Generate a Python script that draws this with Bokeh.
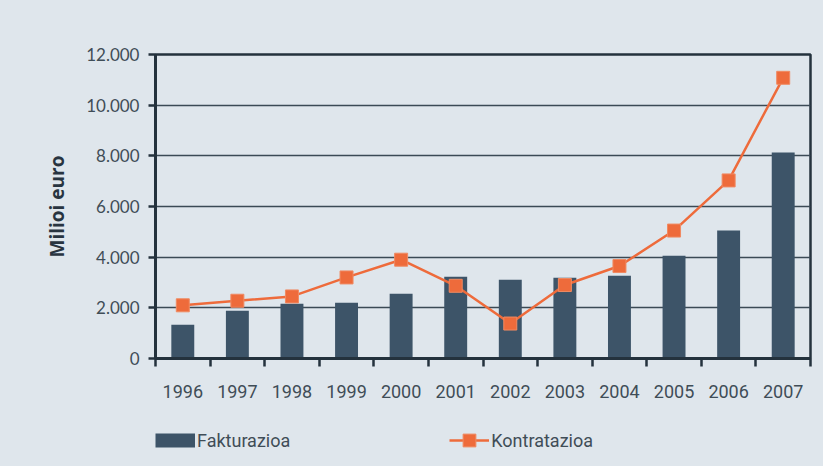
from bokeh.plotting import figure
from bokeh.models import Range1d, FixedTicker, Legend, LegendItem
from bokeh.layouts import column
from bokeh.embed import file_html
from bokeh.resources import INLINE

years = ["1996", "1997", "1998", "1999", "2000", "2001", "2002", "2003", "2004", "2005", "2006", "2007"]
fakturazioa = [1330, 1880, 2160, 2200, 2560, 3230, 3110, 3190, 3270, 4060, 5050, 8130]
kontratazioa = [2100, 2280, 2450, 3200, 3900, 2870, 1380, 2900, 3650, 5050, 7030, 11080]
y_ticks = [0, 2000, 4000, 6000, 8000, 10000, 12000]
y_tick_labels = ["0", "2.000", "4.000", "6.000", "8.000", "10.000", "12.000"]

BG = "#dfe6ec"
BAR = "#3d5468"
ORANGE = "#ee6b3b"
DARK = "#24323d"
TEXT = "#3f4d57"
XFONT = "Roboto"

xs = list(range(len(years)))

p = figure(width=823, height=410, output_backend="svg", toolbar_location=None,
           x_range=Range1d(-0.5, len(years) - 0.5), y_range=Range1d(0, 12000),
           min_border_left=155, min_border_right=13, min_border_top=54, min_border_bottom=52)
p.background_fill_color = BG
p.border_fill_color = BG
p.outline_line_color = DARK
p.outline_line_width = 2.5

bars = p.vbar(x=xs, top=fakturazioa, width=0.42, fill_color=BAR, line_color=None)
line = p.line(xs, kontratazioa, line_color=ORANGE, line_width=2.5)
pts = p.scatter(xs, kontratazioa, marker="square", size=13, fill_color=ORANGE,
                line_color="#f08a62", line_width=1)

# x axis
p.xaxis.ticker = FixedTicker(ticks=xs, minor_ticks=[i - 0.5 for i in range(len(years) + 1)])
p.xaxis.major_label_overrides = {i: y for i, y in zip(xs, years)}
p.xaxis.major_tick_out = 0
p.xaxis.major_tick_in = 0
p.xaxis.minor_tick_out = 8
p.xaxis.minor_tick_in = 0
p.xaxis.minor_tick_line_color = DARK
p.xaxis.minor_tick_line_width = 2.5
p.xaxis.axis_line_color = DARK
p.xaxis.axis_line_width = 3
p.xaxis.major_label_standoff = 18
p.xaxis.major_label_text_font = XFONT
p.xaxis.major_label_text_font_size = "18px"
p.xaxis.major_label_text_color = TEXT
p.xgrid.visible = False

# y axis
p.yaxis.ticker = FixedTicker(ticks=y_ticks, minor_ticks=[])
p.yaxis.major_label_overrides = {t: l for t, l in zip(y_ticks, y_tick_labels)}
p.yaxis.major_tick_out = 7
p.yaxis.major_tick_in = 0
p.yaxis.major_tick_line_color = DARK
p.yaxis.major_tick_line_width = 2.5
p.yaxis.axis_line_color = DARK
p.yaxis.axis_line_width = 3
p.yaxis.major_label_standoff = 9
p.yaxis.major_label_text_font = "Lato"
p.yaxis.major_label_text_font_size = "17px"
p.yaxis.major_label_text_color = TEXT
p.yaxis.axis_label = "Milioi euro"
p.yaxis.axis_label_text_font = "Open Sans"
p.yaxis.axis_label_text_font_style = "bold"
p.yaxis.axis_label_text_font_size = "19px"
p.yaxis.axis_label_text_color = "#283440"
p.yaxis.axis_label_standoff = 13
p.ygrid.ticker = FixedTicker(ticks=y_ticks)
p.ygrid.grid_line_color = "#3b4a55"
p.ygrid.grid_line_width = 1.5

# legend strip below the chart: same series, drawn outside its visible range,
# so that only their legend swatches show
lg = figure(width=823, height=56, output_backend="svg", toolbar_location=None,
            x_range=Range1d(-0.5, len(years) - 0.5), y_range=Range1d(-2, -1),
            min_border_left=155, min_border_right=13, min_border_top=14, min_border_bottom=10)
lg.background_fill_color = BG
lg.border_fill_color = BG
lg.outline_line_color = None
lg.xaxis.visible = False
lg.yaxis.visible = False
lg.grid.visible = False
sw_bar = lg.line(xs, fakturazioa, line_color=BAR, line_width=14, line_cap="butt")
sw_line = lg.line(xs, kontratazioa, line_color=ORANGE, line_width=2.5)
sw_pts = lg.scatter(xs, kontratazioa, marker="square", fill_color=ORANGE,
                    line_color="#f08a62", line_width=1)

legend = Legend(items=[LegendItem(label="Fakturazioa", renderers=[sw_bar]),
                       LegendItem(label="Kontratazioa", renderers=[sw_line, sw_pts])],
                location="top_left", orientation="horizontal", spacing=159,
                glyph_width=40, glyph_height=32, label_standoff=2,
                padding=0, margin=0, border_line_color=None, background_fill_alpha=0,
                label_text_font=XFONT, label_text_font_size="18px", label_text_color=TEXT)
lg.add_layout(legend, "center")

layout = column(p, lg, spacing=0, styles={"background-color": BG})
open("out.html", "w").write(file_html(layout, INLINE))
